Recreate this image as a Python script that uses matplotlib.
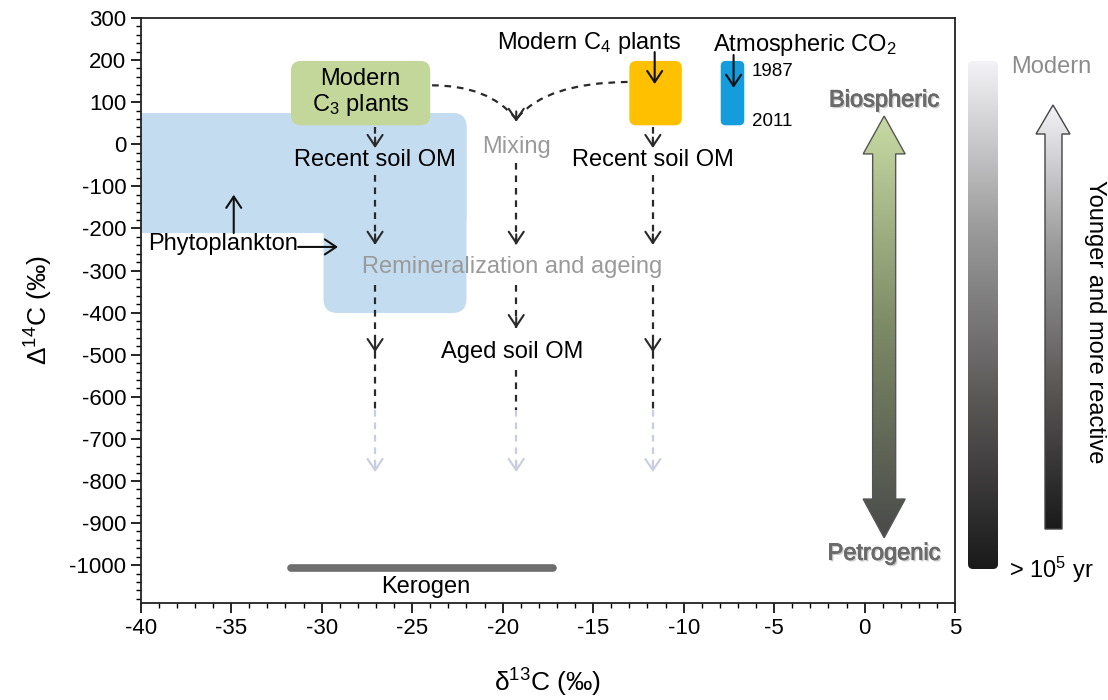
import numpy as np
import matplotlib
matplotlib.use('Agg')
import matplotlib.pyplot as plt
from matplotlib.patches import FancyBboxPatch, Polygon, PathPatch
from matplotlib.path import Path
from matplotlib.colors import LinearSegmentedColormap
from matplotlib.ticker import MultipleLocator
import matplotlib.patheffects as pe

plt.rcParams['font.family'] = ['Liberation Sans', 'DejaVu Sans']
plt.rcParams['mathtext.fontset'] = 'custom'
plt.rcParams['mathtext.rm'] = 'Liberation Sans'
plt.rcParams['mathtext.it'] = 'Liberation Sans:italic'
plt.rcParams['mathtext.bf'] = 'Liberation Sans:bold'
plt.rcParams['axes.unicode_minus'] = False

# axis ranges / ticks
x_lim = [-40, 5]
y_lim = [-1090, 300]
x_ticks = np.arange(-40, 6, 5)
y_ticks = np.arange(-1000, 301, 100)

# end-member fields: [d13C min, d13C max, D14C min, D14C max]
c3_box = [-31.7, -24.0, 45, 198]
c4_box = [-13.0, -10.1, 45, 198]
co2_box = [-7.95, -6.65, 45, 198]
phyto_upper = [-42.0, -22.0, -211, 74]
phyto_lower = [-29.9, -22.0, -401, 74]
kerogen_d13c = [-31.7, -17.2]
kerogen_d14c = -1008

# pathway columns: d13C position and dashed segments (start, end, has head)
col_x = [-27.05, -19.25, -11.7]
col_segments = [
    [(41, -9, True), (-73, -239, True), (-334, -494, True), (-494, -631, False)],
    [(-44, -239, True), (-334, -437, True), (-536, -631, False)],
    [(41, -9, True), (-73, -239, True), (-334, -494, True), (-494, -631, False)],
]
fade_segment = (-631, -779)

# biospheric / petrogenic arrow (d13C centre, tips, head bases)
bio_x = 1.08
bio_tips = [67, -935]
bio_bases = [-23, -843]

fig = plt.figure(figsize=(11.08, 7.0), dpi=100)
ax = fig.add_axes([0.127, 0.1386, 0.735, 0.8357])
ax.set_xlim(x_lim)
ax.set_ylim(y_lim)
ax.set_xticks(x_ticks)
ax.set_yticks(y_ticks)
ax.xaxis.set_minor_locator(MultipleLocator(1))
ax.yaxis.set_minor_locator(MultipleLocator(20))
ax.tick_params(which='major', direction='out', length=7, width=1.2, labelsize=16)
ax.tick_params(which='minor', direction='out', length=3.5, width=1.0)
for s in ax.spines.values():
    s.set_linewidth(1.3)
    s.set_color('#222222')
ax.set_xlabel('δ$^{13}$C (‰)', fontsize=19, labelpad=20)
ax.set_ylabel('Δ$^{14}$C (‰)', fontsize=19, labelpad=10)

# aspect factor so rounded corners are circular in pixels
bb = ax.get_position()
px_x = bb.width * fig.get_figwidth() * fig.dpi / (x_lim[1] - x_lim[0])
px_y = bb.height * fig.get_figheight() * fig.dpi / (y_lim[1] - y_lim[0])
asp = px_x / px_y


def rbox(b, color, r_px, z=1):
    p = FancyBboxPatch((b[0], b[2]), b[1] - b[0], b[3] - b[2],
                       boxstyle=f"round,pad=0,rounding_size={r_px / px_x}",
                       mutation_aspect=asp, fc=color, ec='none', zorder=z)
    ax.add_patch(p)
    return p


rbox(phyto_upper, '#c3dcf0', 14)
rbox(phyto_lower, '#c3dcf0', 14)
rbox(c3_box, '#c4d79b', 10, 3)
rbox(c4_box, '#ffc000', 7, 3)
rbox(co2_box, '#149cdc', 5, 3)

dash_c = '#2a2a2a'
fade_c = '#c8cde0'


def head(x, y, color=dash_c):
    ax.annotate('', xy=(x, y), xytext=(x, y + 25),
                arrowprops=dict(arrowstyle='->,head_length=0.45,head_width=0.3',
                                color=color, lw=1.5, mutation_scale=18,
                                shrinkA=0, shrinkB=0), zorder=4)


for x, segs in zip(col_x, col_segments):
    for y0, y1, h in segs:
        ax.plot([x, x], [y0, y1], color=dash_c, lw=1.6, dashes=(3, 2.6), zorder=4)
        if h:
            head(x, y1)
    ax.plot([x, x], list(fade_segment), color=fade_c, lw=1.6, dashes=(3, 2.6), zorder=4)
    head(x, fade_segment[1], fade_c)

# mixing curves
for p0, pc, p1 in [((-23.9, 140), (-20.8, 140), (-19.3, 62)),
                   ((-13.1, 148), (-17.6, 146), (-19.2, 62))]:
    path = Path([p0, pc, p1], [Path.MOVETO, Path.CURVE3, Path.CURVE3])
    ax.add_patch(PathPatch(path, fc='none', ec=dash_c, lw=1.6,
                           linestyle=(0, (3, 2.6)), zorder=4))
head(-19.25, 53)

# solid arrows
solid = dict(arrowstyle='->,head_length=0.45,head_width=0.3', color='#111111',
             lw=1.5, mutation_scale=18, shrinkA=0, shrinkB=0)
ax.annotate('', xy=(-11.6, 143), xytext=(-11.6, 219), arrowprops=solid, zorder=5)
ax.annotate('', xy=(-7.24, 134), xytext=(-7.24, 212), arrowprops=solid, zorder=5)
ax.annotate('', xy=(-34.86, -120), xytext=(-34.86, -211), arrowprops=solid, zorder=5)
ax.annotate('', xy=(-29.1, -244), xytext=(-31.3, -244), arrowprops=solid, zorder=5)

# kerogen bar
ax.plot(kerogen_d13c, [kerogen_d14c] * 2, color='#6e6e6e', lw=5.5,
        solid_capstyle='round', zorder=3)

fs = 17
ax.text(-27.85, 121, 'Modern\nC$_3$ plants', ha='center', va='center', fontsize=fs,
        linespacing=1.1, zorder=6)
ax.text(-15.2, 241, 'Modern C$_4$ plants', ha='center', va='center', fontsize=fs)
ax.text(-3.3, 236, 'Atmospheric CO$_2$', ha='center', va='center', fontsize=fs)
ax.text(-6.25, 172, '1987', ha='left', va='center', fontsize=13.5)
ax.text(-6.25, 53, '2011', ha='left', va='center', fontsize=13.5)
ax.text(-27.05, -37, 'Recent soil OM', ha='center', va='center', fontsize=fs, zorder=6)
ax.text(-11.7, -37, 'Recent soil OM', ha='center', va='center', fontsize=fs, zorder=6)
ax.text(-19.25, -7, 'Mixing', ha='center', va='center', fontsize=fs, color='#9a9a9a')
ax.text(-19.5, -292, 'Remineralization and ageing', ha='center', va='center',
        fontsize=fs, color='#9a9a9a', zorder=6)
ax.text(-19.5, -494, 'Aged soil OM', ha='center', va='center', fontsize=fs, zorder=6)
ax.text(-39.6, -237, 'Phytoplankton', ha='left', va='center', fontsize=fs, zorder=6)
ax.text(-24.25, -1052, 'Kerogen', ha='center', va='center', fontsize=fs)

# gradient double arrow inside the axes
hw_h = 21 / px_x
hw_s = 11.5 / px_x
verts = [(bio_x, bio_tips[0]), (bio_x + hw_h, bio_bases[0]), (bio_x + hw_s, bio_bases[0]),
         (bio_x + hw_s, bio_bases[1]), (bio_x + hw_h, bio_bases[1]), (bio_x, bio_tips[1]),
         (bio_x - hw_h, bio_bases[1]), (bio_x - hw_s, bio_bases[1]),
         (bio_x - hw_s, bio_bases[0]), (bio_x - hw_h, bio_bases[0])]
poly = Polygon(verts, closed=True, fc='none', ec='#555555', lw=1.0, zorder=7)
ax.add_patch(poly)
green_cm = LinearSegmentedColormap.from_list('g', ['#4a4a4a', '#7d8a66', '#c8dba3'])
grad = np.linspace(0, 1, 256).reshape(-1, 1)
im = ax.imshow(grad, cmap=green_cm, origin='lower', aspect='auto', zorder=6,
               extent=(bio_x - hw_h, bio_x + hw_h, bio_tips[1], bio_tips[0]))
im.set_clip_path(poly)
ax.set_xlim(x_lim)
ax.set_ylim(y_lim)
shadow = [pe.withSimplePatchShadow(offset=(1.2, -1.2), shadow_rgbFace='#999999', alpha=0.5),
          pe.Stroke(linewidth=0.6, foreground='#6a6a6a'), pe.Normal()]
ax.text(bio_x, 104, 'Biospheric', ha='center', va='center', fontsize=17,
        color='#6a6a6a', path_effects=shadow)
ax.text(bio_x, -973, 'Petrogenic', ha='center', va='center', fontsize=17,
        color='#6a6a6a', path_effects=shadow)

# right-hand age scale (figure pixel coordinates)
ov = fig.add_axes([0, 0, 1, 1], facecolor='none')
ov.set_xlim(0, 1108)
ov.set_ylim(700, 0)
ov.axis('off')
gray_cm = LinearSegmentedColormap.from_list('k', ['#f3f3f7', '#9a9a9a', '#5a5757', '#1a1a1a'])
bar = FancyBboxPatch((968, 61), 30, 508, boxstyle='round,pad=0,rounding_size=5',
                     fc='none', ec='none')
ov.add_patch(bar)
im2 = ov.imshow(grad, cmap=gray_cm, origin='lower', aspect='auto',
                extent=(968, 998, 61, 569))
im2.set_clip_path(bar)
arr = Polygon([(1053, 105), (1070, 134), (1062, 134), (1062, 529), (1045, 529),
               (1045, 134), (1036, 134)], closed=True, fc='none', ec='#444444', lw=1.0)
ov.add_patch(arr)
im3 = ov.imshow(grad, cmap=gray_cm, origin='lower', aspect='auto',
                extent=(1036, 1070, 105, 529))
im3.set_clip_path(arr)
ov.set_xlim(0, 1108)
ov.set_ylim(700, 0)
ov.text(1011, 67, 'Modern', ha='left', va='center', fontsize=17, color='#8c8c8c')
ov.text(1009, 570, '> 10$^5$ yr', ha='left', va='center', fontsize=17)
ov.text(1095, 322, 'Younger and more reactive', ha='center', va='center',
        rotation=270, fontsize=17)

fig.savefig('out.png', dpi=100)
